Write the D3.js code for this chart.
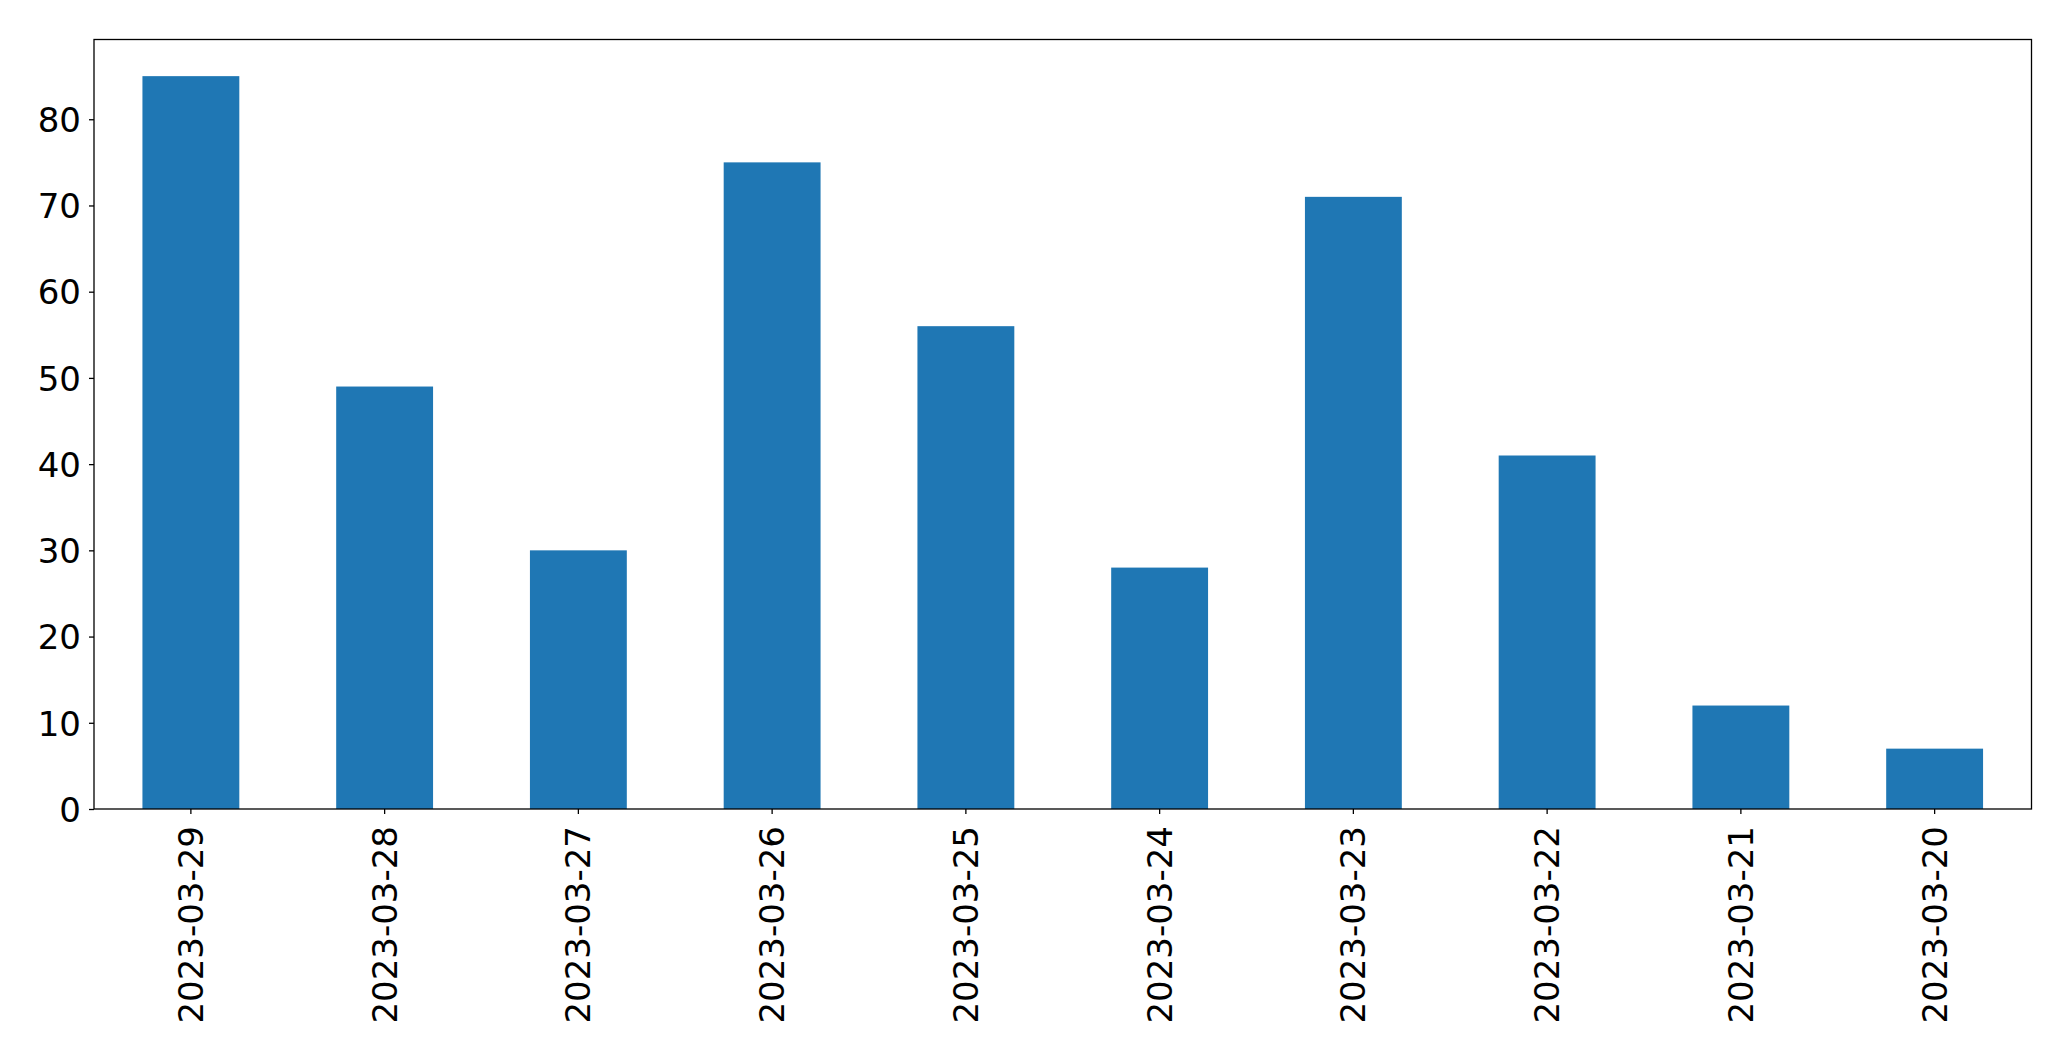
<!DOCTYPE html>
<html>
<head>
<meta charset="utf-8">
<script src="https://cdn.jsdelivr.net/npm/d3@7"></script>
<style>
  html, body { margin: 0; padding: 0; background: #fff; }
  svg { display: block; }
  text { font-family: "DejaVu Sans", sans-serif; fill: #000; }
</style>
</head>
<body>
<svg id="chart" width="2071" height="1061"></svg>
<script>
const categories = ["2023-03-29","2023-03-28","2023-03-27","2023-03-26","2023-03-25","2023-03-24","2023-03-23","2023-03-22","2023-03-21","2023-03-20"];
const values = [85, 49, 30, 75, 56, 28, 71, 41, 12, 7];
const yTicks = [0, 10, 20, 30, 40, 50, 60, 70, 80];

const W = 2071, H = 1061;
const margin = { left: 94, right: 2071 - 2031.5, top: 39.5, bottom: 1061 - 809 };
const svg = d3.select("#chart");

const x = d3.scaleBand()
  .domain(categories)
  .range([margin.left, W - margin.right])
  .paddingInner(0.5)
  .paddingOuter(0.25);

const y = d3.scaleLinear()
  .domain([0, d3.max(values) * 1.05])
  .range([H - margin.bottom, margin.top]);

// bars
svg.append("g").selectAll("rect")
  .data(values)
  .join("rect")
  .attr("x", (d, i) => x(categories[i]))
  .attr("width", x.bandwidth())
  .attr("y", d => y(d))
  .attr("height", d => y(0) - y(d))
  .attr("fill", "#1f77b4");

// y axis
const yAxis = d3.axisLeft(y).tickValues(yTicks).tickSize(5).tickPadding(8).tickFormat(d3.format("d"));
const gy = svg.append("g").attr("transform", `translate(${margin.left},0)`).call(yAxis);
gy.select(".domain").remove();
gy.selectAll(".tick line").attr("stroke", "#000").attr("stroke-width", 1.3);
gy.selectAll(".tick text").attr("font-size", 34).attr("font-family", "DejaVu Sans, sans-serif").attr("fill", "#000").attr("dy", "0.36em");

// x axis
const xAxis = d3.axisBottom(x).tickSize(5).tickPadding(0);
const gx = svg.append("g").attr("transform", `translate(0,${H - margin.bottom})`).call(xAxis);
gx.select(".domain").remove();
gx.selectAll(".tick line").attr("stroke", "#000").attr("stroke-width", 1.3);
gx.selectAll(".tick text")
  .attr("font-size", 34)
  .attr("font-family", "DejaVu Sans, sans-serif")
  .attr("fill", "#000")
  .attr("text-anchor", "end")
  .attr("y", 0)
  .attr("dy", "0.35em")
  .attr("transform", "translate(0,17) rotate(-90)");

// frame
svg.append("rect")
  .attr("x", margin.left)
  .attr("y", margin.top)
  .attr("width", W - margin.right - margin.left)
  .attr("height", H - margin.bottom - margin.top)
  .attr("fill", "none")
  .attr("stroke", "#000")
  .attr("stroke-width", 1.3);
</script>
</body>
</html>
